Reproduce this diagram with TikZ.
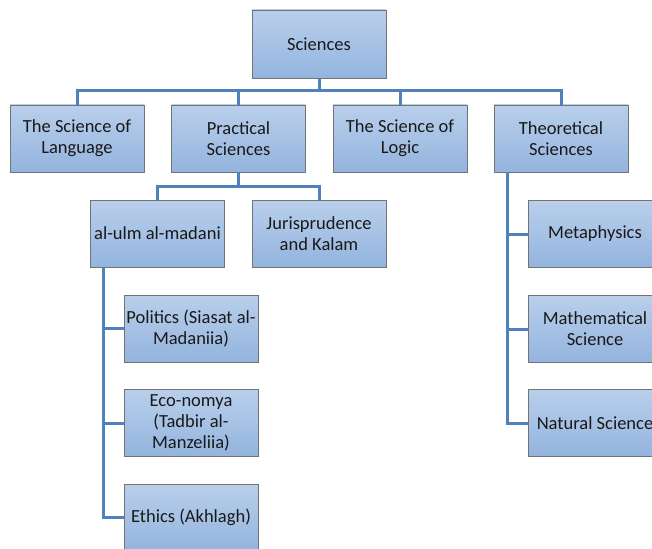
\documentclass[tikz,border=0pt]{standalone}
\usepackage{fontspec}
\setmainfont{Carlito}
\usetikzlibrary{calc}
\definecolor{connc}{RGB}{79,129,189}
\definecolor{boxtop}{RGB}{185,207,235}
\definecolor{boxbot}{RGB}{147,180,222}
\definecolor{boxdraw}{RGB}{115,115,115}
\begin{document}
\begin{tikzpicture}[x=1pt,y=1pt,
  box/.style={draw=boxdraw, line width=0.8pt, top color=boxtop, bottom color=boxbot,
    minimum width=134pt, minimum height=67pt, inner sep=0pt, align=center,
    font=\fontsize{18.5}{21}\selectfont, text=black!90},
  conn/.style={draw=connc, line width=3pt}]
\useasboundingbox (0,0) rectangle (652,-548);
\clip (0,0) rectangle (652,-548);
\coordinate (bus1) at (0,-91);
\coordinate (bus2) at (0,-186);
\node[box, minimum height=68pt] (sci) at (319,-44) {Sciences};
\node[box] (lang) at (77,-138.5) {The Science of\\Language};
\node[box] (prac) at (238.5,-138.5) {Practical\\Sciences};
\node[box] (logic) at (400,-138.5) {The Science of\\Logic};
\node[box] (theo) at (561,-138.5) {Theoretical\\Sciences};
\node[box] (ulm) at (157.5,-233.5) {al-ulm al-madani};
\node[box] (juris) at (319,-233.5) {Jurisprudence\\and Kalam};
\node[box] (pol) at (191,-328.5) {Politics (Siasat al-\\Madaniia)};
\node[box] (eco) at (191,-423) {Eco-nomya\\(Tadbir al-\\Manzeliia)};
\node[box] (eth) at (191,-517.5) {Ethics (Akhlagh)};
\node[box] (meta) at (595,-234) {Metaphysics};
\node[box] (math) at (595,-329) {Mathematical\\Science};
\node[box] (nat) at (595,-423) {Natural Science};
% level 1
\draw[conn] (sci.south) -- (sci.south |- bus1) -| (lang.north);
\draw[conn] (sci.south |- bus1) -| (prac.north);
\draw[conn] (sci.south |- bus1) -| (logic.north);
\draw[conn] (sci.south |- bus1) -| (theo.north);
% practical
\draw[conn] (prac.south) -- (prac.south |- bus2) -| (ulm.north);
\draw[conn] (prac.south |- bus2) -| (juris.north);
% al-ulm
\coordinate (ua) at ($(ulm.south west)+(13,0)$);
\draw[conn] (ua) |- (eth.west);
\draw[conn] (ua |- pol.west) -- (pol.west);
\draw[conn] (ua |- eco.west) -- (eco.west);
% theoretical
\coordinate (ta) at ($(theo.south west)+(14,0)$);
\draw[conn] (ta) |- (nat.west);
\draw[conn] (ta |- meta.west) -- (meta.west);
\draw[conn] (ta |- math.west) -- (math.west);
\end{tikzpicture}
\end{document}
